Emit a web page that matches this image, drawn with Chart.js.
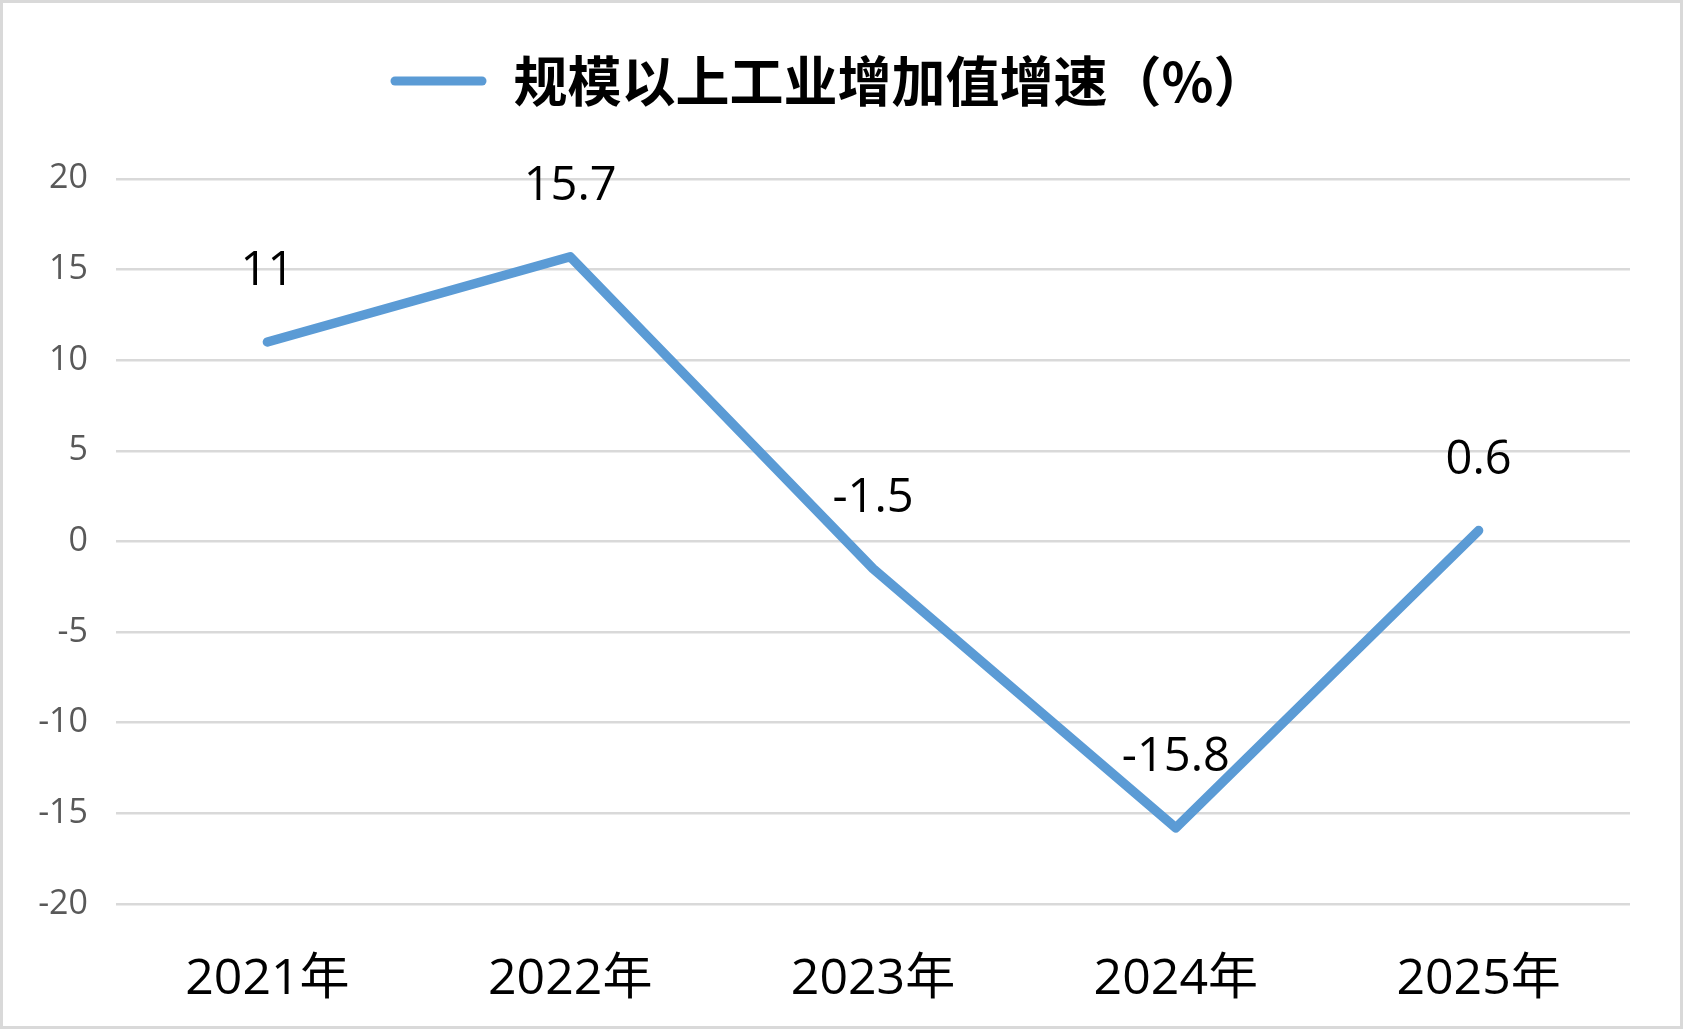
<!DOCTYPE html>
<html>
<head>
<meta charset="utf-8">
<script src="https://cdn.jsdelivr.net/npm/chart.js@4.4.1/dist/chart.umd.min.js"></script>
<style>
  html, body { margin: 0; padding: 0; background: #ffffff; }
  #wrap { position: relative; width: 1683px; height: 1029px; }
  #c { position: absolute; left: 0; top: 0; }
  #frame { position: absolute; left: 0; top: 0; width: 1683px; height: 1029px; box-sizing: border-box; border: 3px solid #d9d9d9; pointer-events: none; }
</style>
</head>
<body>
<div id="wrap">
  <canvas id="c" width="1683" height="1029"></canvas>
  <div id="frame"></div>
</div>
<script>
const categories = ['2021年', '2022年', '2023年', '2024年', '2025年'];
const seriesName = '规模以上工业增加值增速（%）';
const growthValues = [11, 15.7, -1.5, -15.8, 0.6];
const yTicks = [-20, -15, -10, -5, 0, 5, 10, 15, 20];

const LINE_COLOR = '#5B9BD5';
const NUM_FONT = '"Open Sans", "Noto Sans CJK SC", sans-serif';

const dataLabelPlugin = {
  id: 'dataLabels',
  afterDatasetsDraw(chart) {
    const ctx = chart.ctx;
    const meta = chart.getDatasetMeta(0);
    const values = chart.data.datasets[0].data;
    ctx.save();
    ctx.font = '47px ' + NUM_FONT;
    ctx.fillStyle = '#000000';
    ctx.textAlign = 'center';
    ctx.textBaseline = 'middle';
    meta.data.forEach((pt, i) => {
      ctx.fillText(String(values[i]), pt.x, pt.y - 70);
    });
    ctx.restore();
  }
};

new Chart(document.getElementById('c'), {
  type: 'line',
  data: {
    labels: categories,
    datasets: [{
      label: seriesName,
      data: growthValues,
      borderColor: LINE_COLOR,
      backgroundColor: LINE_COLOR,
      borderWidth: 9.5,
      borderCapStyle: 'round',
      borderJoinStyle: 'round',
      pointRadius: 0,
      pointHoverRadius: 0,
      tension: 0,
      fill: false,
      yAxisID: 'y'
    }]
  },
  options: {
    responsive: false,
    animation: false,
    devicePixelRatio: 1,
    layout: { padding: { top: 0, left: 0, right: 25, bottom: 0 } },
    plugins: {
      tooltip: { enabled: false },
      legend: {
        display: true,
        position: 'top',
        labels: {
          boxWidth: 96,
          boxHeight: 9,
          useBorderRadius: true,
          borderRadius: 4.5,
          padding: 54,
          color: '#000000',
          font: { family: '"Noto Sans CJK SC", sans-serif', size: 54, weight: 'bold' },
          generateLabels(chart) {
            return chart.data.datasets.map((ds, i) => ({
              text: ds.label,
              fillStyle: LINE_COLOR,
              strokeStyle: LINE_COLOR,
              lineWidth: 0,
              borderRadius: 4.5,
              hidden: false,
              datasetIndex: i,
              fontColor: '#000000'
            }));
          }
        }
      },
      title: {
        display: true,
        text: ' ',
        weight: 500,
        font: { size: 1, lineHeight: 1 },
        padding: { top: 0, bottom: 59.8 }
      }
    },
    scales: {
      x: {
        type: 'category',
        offset: true,
        grid: { display: false, drawTicks: false },
        border: { display: false },
        ticks: {
          color: '#000000',
          font: { family: NUM_FONT, size: 50 },
          padding: 46,
          maxRotation: 0,
          autoSkip: false
        },
        afterFit(scale) {
          scale.height = 125;
        }
      },
      y: {
        min: -20,
        max: 20,
        afterBuildTicks(scale) {
          scale.ticks = yTicks.map(v => ({ value: v }));
        },
        grid: { color: '#d9d9d9', lineWidth: 2.5, drawTicks: false },
        border: { display: false },
        ticks: {
          color: '#595959',
          font: { family: NUM_FONT, size: 34 },
          padding: 28
        },
        afterFit(scale) {
          scale.width = 116;
        }
      },
      yRight: {
        position: 'right',
        display: true,
        grid: { display: false, drawTicks: false },
        border: { display: false },
        ticks: { display: false },
        afterFit(scale) {
          scale.width = 28;
        }
      }
    }
  },
  plugins: [dataLabelPlugin]
});
</script>
</body>
</html>
